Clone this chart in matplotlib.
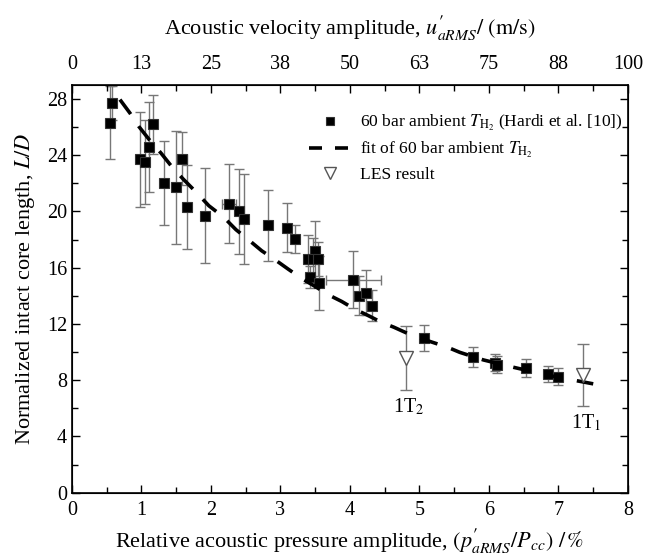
import matplotlib
matplotlib.use("Agg")
import matplotlib.pyplot as plt
from matplotlib.ticker import MultipleLocator
from matplotlib.lines import Line2D
import numpy as np

# ---- data ----
x_exp = [0.57, 0.54, 0.98, 1.05, 1.11, 1.17, 1.33, 1.50, 1.59, 1.65, 1.91, 2.26, 2.41, 2.47,
         2.82, 3.10, 3.21, 3.50, 3.40, 3.47, 3.54, 3.43, 3.55, 4.05, 4.13, 4.23, 4.31, 5.06,
         5.77, 6.09, 6.12, 6.53, 6.85, 6.99]
y_exp = [27.7, 26.3, 23.7, 23.5, 24.6, 26.2, 22.0, 21.7, 23.75, 20.3, 19.7, 20.55, 20.0, 19.45,
         19.0, 18.85, 18.05, 17.15, 16.6, 16.6, 16.6, 15.35, 14.9, 15.15, 14.0, 14.2, 13.3, 11.0,
         9.65, 9.25, 9.1, 8.85, 8.45, 8.25]
y_err = [1.2, 2.6, 3.4, 3.0, 3.2, 2.1, 3.0, 4.0, 1.9, 3.0, 3.4, 2.8, 3.0, 3.2,
         2.5, 1.75, 1.0, 2.2, 1.7, 1.5, 1.2, 0.8, 1.9, 2.0, 1.4, 1.6, 1.1, 0.95,
         0.7, 0.6, 0.6, 0.65, 0.55, 0.6]
x_err = [0.0, 0.04, 0.0, 0.0, 0.0, 0.0, 0.0, 0.0, 0.07, 0.0, 0.0, 0.10, 0.0, 0.0,
         0.0, 0.0, 0.0, 0.0, 0.0, 0.0, 0.0, 0.0, 0.0, 0.39, 0.0, 0.0, 0.0, 0.05,
         0.05, 0.05, 0.05, 0.0, 0.0, 0.05]

x_fit = [0.69, 0.84, 0.96, 1.12, 1.28, 1.44, 1.60, 1.79, 1.97, 2.18, 2.36, 2.56, 2.73, 2.94,
         3.11, 3.30, 3.50, 3.69, 3.88, 4.07, 4.26, 4.46, 4.63, 4.84, 5.06, 5.40, 5.58, 5.92,
         6.35, 6.90, 7.50]
y_fit = [27.95, 26.95, 26.05, 25.05, 24.15, 23.16, 22.3, 21.35, 20.4, 19.6, 18.7, 17.9, 17.2, 16.5,
         15.9, 15.25, 14.66, 14.07, 13.6, 13.05, 12.6, 12.1, 11.77, 11.3, 10.9, 10.35, 9.98, 9.44,
         8.92, 8.3, 7.74]

x_les = [4.80, 7.36]
y_les = [9.57, 8.38]
err_les = [2.3, 2.2]
les_labels = ["1T$_2$", "1T$_1$"]

x_ticks = [0, 1, 2, 3, 4, 5, 6, 7, 8]
top_labels = ["0", "13", "25", "38", "50", "63", "75", "88", "100"]
y_ticks = [0, 4, 8, 12, 16, 20, 24, 28]

legend_labels = [r"60 bar ambient $T_{\mathrm{H_2}}$ (Hardi et al. [10])",
                 r"fit of 60 bar ambient $T_{\mathrm{H_2}}$",
                 "LES result"]

# ---- style ----
plt.rcParams["font.family"] = ["Liberation Serif", "DejaVu Serif"]
plt.rcParams["mathtext.fontset"] = "stix"
FS_TICK = 14.5
FS_LAB = 16
FS_LEG = 12.6

fig = plt.figure(figsize=(6.45, 5.58), dpi=100)
ax = fig.add_axes([0.1116, 0.117, 0.862, 0.731])

ax.errorbar(x_exp, y_exp, yerr=y_err, xerr=x_err, fmt="none", ecolor="#777777",
            elinewidth=1.0, capsize=3.5, capthick=1.0, zorder=2)
sq, = ax.plot(x_exp, y_exp, "s", color="black", markersize=7.2, markeredgecolor="#333333",
              markeredgewidth=0.8, zorder=3)
ax.plot(x_fit, y_fit, "-", color="black", linewidth=2.6, dashes=(5, 4), zorder=4)
ax.errorbar(x_les, y_les, yerr=err_les, fmt="none", ecolor="#777777", elinewidth=1.0,
            capsize=4.5, capthick=1.0, zorder=2)
tri, = ax.plot(x_les, y_les, "v", markersize=10, markerfacecolor="white", markeredgecolor="#555555",
               markeredgewidth=1.0, linestyle="none", zorder=5)

for xl, yl, lab in zip(x_les, y_les, les_labels):
    ax.text(xl + 0.04, yl - 3.45, lab, ha="center", va="center", fontsize=FS_TICK)

ax.set_xlim(0, 8)
ax.set_ylim(0, 29)
ax.set_xticks(x_ticks)
ax.set_yticks(y_ticks)
ax.xaxis.set_minor_locator(MultipleLocator(0.5))
ax.yaxis.set_minor_locator(MultipleLocator(2))
ax.tick_params(which="both", direction="in", right=True, labelsize=FS_TICK)
ax.tick_params(axis="x", which="both", pad=6)
ax.tick_params(which="major", length=6, width=1)
ax.tick_params(which="minor", length=4, width=1)
for s in ax.spines.values():
    s.set_linewidth(1.2)

ax.set_xlabel(r"Relative acoustic pressure amplitude, $(p^{\boldsymbol{\prime}}_{aRMS}/P_{cc})\ /\,\%$",
              fontsize=FS_LAB, labelpad=4)
ax.set_ylabel(r"Normalized intact core length, $L/D$", fontsize=FS_LAB, labelpad=7)

top = ax.twiny()
top.set_xlim(0, 8)
top.set_xticks(x_ticks)
top.set_xticklabels(top_labels)
top.xaxis.set_minor_locator(MultipleLocator(0.5))
top.tick_params(which="both", direction="in", labelsize=FS_TICK, pad=8)
top.tick_params(which="major", length=6, width=1)
top.tick_params(which="minor", length=4, width=1)
top.set_xlabel(r"Acoustic velocity amplitude, $u^{\boldsymbol{\prime}}_{aRMS}/\ (\mathrm{m/s})$",
               fontsize=FS_LAB, labelpad=14)

fit_handle = Line2D([], [], color="black", linewidth=2.6, dashes=(3.6, 3.6))
leg = ax.legend([sq, fit_handle, tri], legend_labels,
                loc="upper right", bbox_to_anchor=(1.004, 0.948), frameon=False, fontsize=FS_LEG,
                handlelength=2.45, handletextpad=0.5, labelspacing=0.38, borderaxespad=0.0,
                markerscale=0.85)

fig.savefig("out.png", dpi=100)
